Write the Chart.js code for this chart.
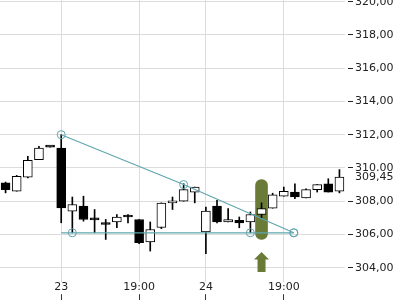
<!DOCTYPE html>
<html>
<head>
<meta charset="utf-8">
<script src="https://cdn.jsdelivr.net/npm/chart.js@4.4.1/dist/chart.umd.min.js"></script>
<style>
  html, body { margin: 0; padding: 0; background: #fff; }
  #wrap { width: 400px; height: 300px; }
</style>
</head>
<body>
<div id="wrap"><canvas id="chart" width="400" height="300"></canvas></div>
<script>
// candles, one per period (index 0..30)
const opens  = [309.10, 308.60, 309.45, 310.50, 311.25, 311.20, 307.40, 307.70, 306.90, 306.60, 306.76,
                307.05, 306.90, 305.55, 306.42, 307.90, 308.00, 308.55, 306.15, 307.70, 306.75, 306.85,
                306.75, 307.20, 307.58, 308.30, 308.55, 308.20, 308.70, 309.05, 308.60];
const highs  = [309.15, 309.55, 310.70, 311.30, 311.25, 312.00, 308.25, 308.30, 307.50, 306.90, 307.20,
                307.20, 306.90, 306.75, 307.90, 308.25, 309.05, 308.85, 307.65, 308.05, 307.55, 307.05,
                307.35, 307.90, 308.48, 308.85, 309.05, 308.75, 309.00, 309.35, 309.90];
const lows   = [308.50, 308.60, 309.40, 310.50, 311.25, 306.70, 306.10, 306.80, 306.10, 305.70, 306.40,
                306.70, 305.45, 305.00, 306.35, 307.50, 308.00, 307.90, 304.85, 306.70, 306.75, 306.40,
                306.10, 307.00, 307.58, 308.30, 308.15, 308.20, 308.55, 308.55, 308.50];
const closes = [308.70, 309.50, 310.45, 311.20, 311.25, 307.60, 307.80, 306.90, 306.88, 306.60, 307.05,
                307.05, 305.50, 306.30, 307.88, 308.00, 308.70, 308.85, 307.40, 306.75, 306.90, 306.70,
                307.20, 307.55, 308.38, 308.60, 308.25, 308.70, 309.00, 308.55, 309.45];

const tickIndex  = [5, 12, 18, 25];
const tickLabels = ['23', '19:00', '24', '19:00'];
const priceTicks = [304, 306, 308, 310, 312, 314, 316, 318, 320];
const lastPrice  = 309.45;

// triangle pattern (index, price)
const upperLine = [[5, 312.0], [16, 309.0], [25.9, 306.1]];
const lowerLine = [[5, 306.1], [6, 306.1], [22, 306.1], [25.9, 306.1]];
const lowerDots = [0, 4, 4, 4];

// breakout signal
const signalIndex = 23;
const signalRange = [305.7, 309.3];
const arrowTip = 304.95;

const teal = '#5fa6ae';
const olive = '#6a7b38';
const fmt = v => v.toFixed(2).replace('.', ',');

Chart.defaults.font.family = 'DejaVu Sans';
Chart.defaults.font.size = 11;

const idx = opens.map((_, i) => i);

const markers = {
  id: 'markers',
  afterDatasetsDraw(chart) {
    const { ctx, scales: { x, y } } = chart;
    const cx = x.getPixelForValue(signalIndex);
    const top = y.getPixelForValue(arrowTip);
    ctx.save();
    ctx.fillStyle = olive;
    ctx.beginPath();
    ctx.moveTo(cx, top);
    ctx.lineTo(cx + 7.5, top + 7.5);
    ctx.lineTo(cx + 4, top + 7.5);
    ctx.lineTo(cx + 4, top + 20);
    ctx.lineTo(cx - 4, top + 20);
    ctx.lineTo(cx - 4, top + 7.5);
    ctx.lineTo(cx - 7.5, top + 7.5);
    ctx.closePath();
    ctx.fill();
    ctx.restore();
  },
  afterDraw(chart) {
    const { ctx, scales: { y } } = chart;
    const py = y.getPixelForValue(lastPrice);
    ctx.save();
    ctx.fillStyle = '#fff';
    ctx.fillRect(y.left + 9, py - 6, y.width - 9, 13);
    ctx.fillStyle = '#222';
    ctx.font = '11px "DejaVu Sans"';
    ctx.textBaseline = 'middle';
    ctx.fillText(fmt(lastPrice), y.left + 10, py);
    ctx.restore();
  }
};

new Chart(document.getElementById('chart'), {
  type: 'bar',
  data: {
    datasets: [
      {
        type: 'line',
        data: upperLine.map(([x, y]) => ({ x, y })),
        borderColor: teal,
        borderWidth: 1.2,
        pointRadius: 4,
        pointBackgroundColor: 'rgba(0,0,0,0)',
        pointBorderColor: teal,
        pointBorderWidth: 1,
        order: 0
      },
      {
        type: 'line',
        data: lowerLine.map(([x, y]) => ({ x, y })),
        borderColor: teal,
        borderWidth: 1.2,
        pointRadius: lowerDots,
        pointBackgroundColor: 'rgba(0,0,0,0)',
        pointBorderColor: teal,
        pointBorderWidth: 1,
        order: 0
      },
      {
        data: idx.map(i => ({ x: i, y: [opens[i], closes[i]] })),
        backgroundColor: idx.map(i => closes[i] > opens[i] ? '#fff' : '#000'),
        borderColor: '#000',
        borderWidth: 1,
        borderSkipped: false,
        barThickness: 9,
        minBarLength: 2,
        grouped: false,
        order: 1
      },
      {
        data: idx.map(i => ({ x: i, y: [lows[i], highs[i]] })),
        backgroundColor: '#000',
        barThickness: 1,
        grouped: false,
        order: 2
      },
      {
        data: [{ x: signalIndex, y: signalRange }],
        backgroundColor: olive,
        barThickness: 12,
        borderRadius: 6,
        borderSkipped: false,
        grouped: false,
        order: 3
      }
    ]
  },
  options: {
    responsive: false,
    animation: false,
    layout: { padding: 0, autoPadding: false },
    plugins: { legend: { display: false }, tooltip: { enabled: false } },
    scales: {
      x: {
        type: 'linear',
        min: -0.5,
        max: 30.5,
        offset: false,
        afterBuildTicks: s => { s.ticks = tickIndex.map(v => ({ value: v })); },
        afterFit: s => { s.height = 18; s.paddingLeft = 0; s.paddingRight = 0; },
        border: { display: false },
        grid: { offset: false, color: '#dcdcdc', tickColor: '#333', tickLength: 18 },
        ticks: {
          callback: v => tickLabels[tickIndex.indexOf(v)],
          padding: -19,
          color: '#222',
          maxRotation: 0,
          autoSkip: false,
          showLabelBackdrop: true,
          backdropColor: '#fff',
          backdropPadding: { x: 1, y: 0 }
        }
      },
      y: {
        position: 'right',
        min: 303.14,
        max: 320.1,
        afterBuildTicks: s => { s.ticks = priceTicks.map(v => ({ value: v })); },
        afterFit: s => { s.width = 55; s.paddingTop = 0; s.paddingBottom = 0; },
        border: { display: false },
        grid: { color: '#dcdcdc', tickColor: '#222', tickLength: 8, tickBorderDash: [0, 3, 5, 100] },
        ticks: { callback: v => fmt(v), padding: 2, color: '#222' }
      }
    }
  },
  plugins: [markers]
});
</script>
</body>
</html>
